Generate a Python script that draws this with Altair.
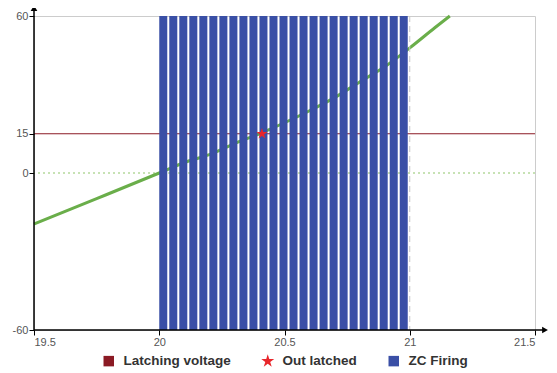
import altair as alt
import pandas as pd

# ---- data ----
curve_x = [19.5, 19.75, 20.0, 20.1, 20.2, 20.3, 20.4, 20.5, 20.6, 20.7, 20.8, 20.9, 21.0, 21.1, 21.16]
curve_y = [-19.5, -9.8, 0.0, 4.0, 7.0, 11.2, 15.0, 19.2, 23.8, 28.8, 34.8, 40.6, 47.8, 55.5, 60.0]

bar_starts = [20.00, 20.04, 20.08, 20.12, 20.16, 20.20, 20.24, 20.28, 20.32, 20.36,
              20.40, 20.44, 20.48, 20.52, 20.56, 20.60, 20.64, 20.68, 20.72, 20.76,
              20.80, 20.84, 20.88, 20.92, 20.96]
bar_width = 0.032
bar_low, bar_high = -60, 60

latch_level = 15
star_x, star_y = 20.41, 15
zc_end = 21

series = ["Latching voltage", "Out latched", "ZC Firing"]
series_colors = ["#8b1a24", "#e8262b", "#3a4fa6"]

x_ticks = [19.5, 20, 20.5, 21, 21.5]
y_ticks = [-60, 0, 15, 60]
x_domain = [19.5, 21.5]
y_domain = [-60, 60]

STAR = ("M0,-1.3L0.29,-0.4L1.24,-0.4L0.47,0.15L0.76,1.05L0,0.5"
        "L-0.76,1.05L-0.47,0.15L-1.24,-0.4L-0.29,-0.4Z")

xs = alt.Scale(domain=x_domain, nice=False, zero=False)
ys = alt.Scale(domain=y_domain, nice=False, zero=False)
cs = alt.Scale(domain=series, range=series_colors)
ss = alt.Scale(domain=series, range=["square", STAR, "square"])

curve_df = pd.DataFrame({"x": curve_x, "y": curve_y})
bars_df = pd.DataFrame({"x": bar_starts,
                        "x2": [b + bar_width for b in bar_starts],
                        "y": [bar_low] * len(bar_starts),
                        "y2": [bar_high] * len(bar_starts)})
latch_df = pd.DataFrame({"y": [latch_level]})
zero_df = pd.DataFrame({"y": [0]})
vline_df = pd.DataFrame({"x": [zc_end]})
star_df = pd.DataFrame({"x": [star_x], "y": [star_y], "series": ["Out latched"]})
yaxis_df = pd.DataFrame({"x": [x_domain[0]], "y": [y_domain[0]], "y2": [63.0]})
xaxis_df = pd.DataFrame({"x": [x_domain[0]], "x2": [21.54], "y": [y_domain[0]]})
yarrow_df = pd.DataFrame({"x": [x_domain[0]], "y": [63.0]})
xarrow_df = pd.DataFrame({"x": [21.54], "y": [y_domain[0]]})

FONT = "Liberation Sans"
xaxis = alt.Axis(values=x_ticks, labelExpr="'' + datum.value", title=None, grid=False,
                 domain=False, tickColor="#000", tickSize=5, labelPadding=1,
                 labelColor="#555", labelFontSize=11, labelFont=FONT)
yaxis = alt.Axis(values=y_ticks, labelExpr="'' + datum.value", title=None, grid=False,
                 domain=False, tickColor="#000", tickSize=5, labelPadding=1,
                 labelColor="#555", labelFontSize=11, labelFont=FONT)

base_x = alt.X("x:Q", scale=xs, axis=xaxis)
base_y = alt.Y("y:Q", scale=ys, axis=yaxis)

leg = alt.Legend(title=None, orient="none", direction="horizontal", legendX=68, legendY=338,
                 symbolSize=110, labelFontSize=13.5, labelFontWeight="bold", labelColor="#333",
                 labelFont=FONT, columnPadding=30, labelOffset=8, symbolOpacity=1,
                 symbolStrokeWidth=0)

zero_line = alt.Chart(zero_df).mark_rule(color="#b5d99c", strokeWidth=1.5, strokeDash=[2, 3]).encode(
    y=alt.Y("y:Q", scale=ys, axis=yaxis))
latch_line = alt.Chart(latch_df).mark_rule(strokeWidth=1, color=series_colors[0]).encode(
    y=alt.Y("y:Q", scale=ys, axis=yaxis))
curve = alt.Chart(curve_df).mark_line(color="#6aae4a", strokeWidth=3, interpolate="monotone").encode(
    x=base_x, y=base_y)
bars = alt.Chart(bars_df).mark_rect(color=series_colors[2]).encode(
    x=base_x, x2="x2", y=base_y, y2="y2")
vline = alt.Chart(vline_df).mark_rule(color="#c8c8c8", strokeDash=[6, 4], strokeWidth=1).encode(
    x=base_x)
star = alt.Chart(star_df).mark_point(filled=True, size=80, opacity=1).encode(
    x=base_x, y=base_y,
    color=alt.Color("series:N", scale=cs, legend=leg),
    shape=alt.Shape("series:N", scale=ss, legend=leg))
yaxis_line = alt.Chart(yaxis_df).mark_rule(color="#000", strokeWidth=1.5).encode(
    x=base_x, y=base_y, y2="y2")
xaxis_line = alt.Chart(xaxis_df).mark_rule(color="#000", strokeWidth=1.5).encode(
    x=base_x, x2="x2", y=base_y)
yarrow = alt.Chart(yarrow_df).mark_point(shape="triangle-up", filled=True, size=45,
                                         color="#000", opacity=1).encode(x=base_x, y=base_y)
xarrow = alt.Chart(xarrow_df).mark_point(shape="triangle-right", filled=True, size=45,
                                         color="#000", opacity=1).encode(x=base_x, y=base_y)

chart = alt.layer(
    zero_line, latch_line, curve, bars, vline, star, yaxis_line, xaxis_line, yarrow, xarrow
).properties(
    width=501, height=314,
    autosize=alt.AutoSizeParams(type="none"),
    padding={"left": 26, "top": 8, "right": 14, "bottom": 40},
    background="white",
).configure_view(stroke="#cccccc", strokeWidth=1)

chart.save("out.html", embed_options={"renderer": "svg", "actions": False})
